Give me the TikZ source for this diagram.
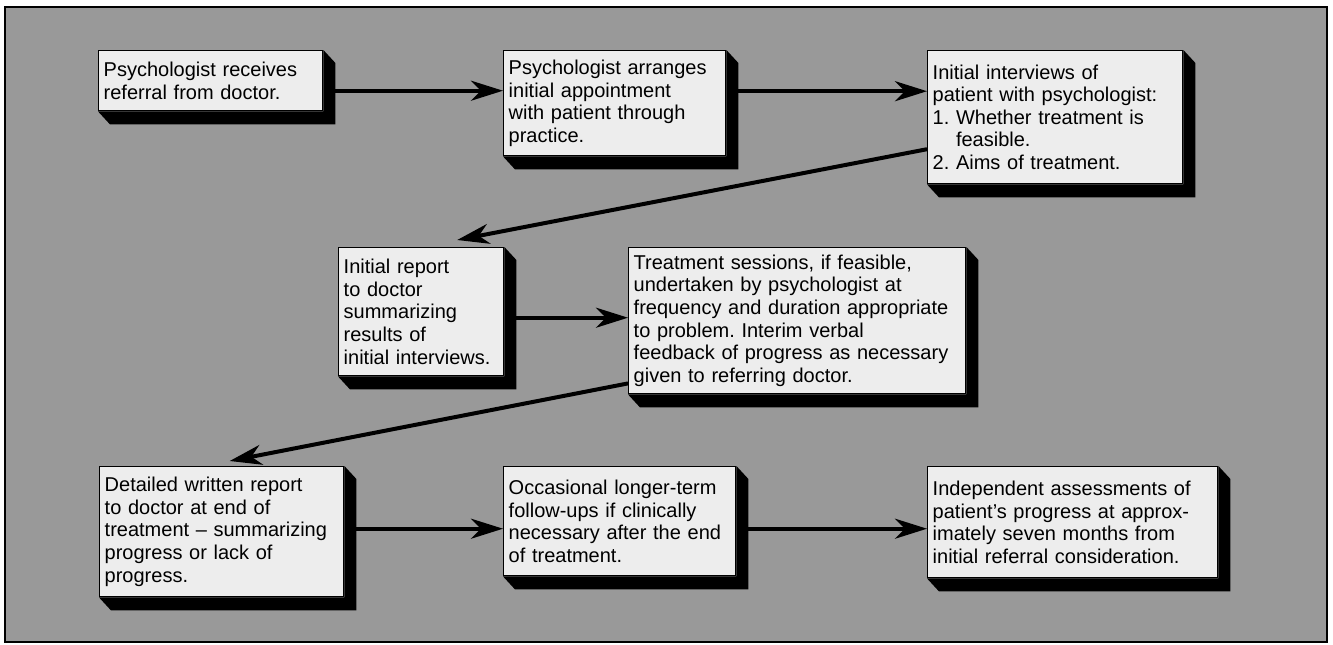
\documentclass[tikz,border=0pt]{standalone}
\usepackage{fontspec}
\setmainfont{Liberation Sans}
\usepackage{xcolor}
\usepackage{tikz}
\usetikzlibrary{arrows.meta}
\definecolor{panelgray}{gray}{0.60}
\definecolor{cardwhite}{gray}{0.93}
\newcommand{\cardfont}{\fontsize{10}{11.3}\selectfont\frenchspacing\hyphenpenalty=10000\relax}
\tikzstyle{stage} = [rectangle, anchor=north west, align=left,
    inner xsep=2.5pt, inner ysep=3pt, font=\cardfont,
    draw=black, line width=0.7pt, fill=cardwhite]
\tikzstyle{flow} = [line width=2pt, -{Stealth[length=16pt, width=10pt, inset=5pt]}]

\begin{document}
\begin{tikzpicture}[x=0.5pt, y=-0.5pt]
  \path[use as bounding box] (0,0) rectangle (1333,644);
  \draw[line width=0.7pt, fill=panelgray] (5,7) rectangle (1327,642);

  % top row
  \node (refer)     [stage, text width=107pt,   minimum height=30pt]   at (98,50)
    {Psychologist receives\\ referral from doctor.};
  \node (arrange)   [stage, text width=106pt,   minimum height=52.5pt] at (503,50)
    {Psychologist arranges\\ initial appointment\\ with patient through\\ practice.};
  \node (interview) [stage, text width=122.5pt, minimum height=66.5pt] at (927,50)
    {Initial interviews of\\ patient with psychologist:\\ 1. Whether treatment is\\
     \hphantom{1. }feasible.\\ 2. Aims of treatment.};

  % middle row
  \node (report)    [stage, text width=77.5pt,  minimum height=64pt]   at (338,247)
    {Initial report\\ to doctor\\ summarizing\\ results of\\ initial interviews.};
  \node (treat)     [stage, text width=163.5pt, minimum height=73pt]   at (628,247)
    {Treatment sessions, if feasible,\\ undertaken by psychologist at\\
     frequency and duration appropriate\\ to problem. Interim verbal\\
     feedback of progress as necessary\\ given to referring doctor.};

  % bottom row
  \node (written)   [stage, text width=117pt,   minimum height=65pt]   at (99,466)
    {Detailed written report\\ to doctor at end of\\ treatment -- summarizing\\
     progress or lack of\\ progress.};
  \node (follow)    [stage, text width=111pt,   minimum height=54.5pt] at (503,466)
    {Occasional longer-term\\ follow-ups if clinically\\ necessary after the end\\ of treatment.};
  \node (assess)    [stage, text width=140pt,   minimum height=55.5pt] at (927,466)
    {Independent assessments of\\ patient's progress at approx-\\
     imately seven months from\\ initial referral consideration.};

  % raised edges
  \foreach \n in {refer, arrange, interview, report, treat, written, follow, assess}
    \fill (\n.north east) -- ++(12,13) -- ([shift={(12,13)}]\n.south east)
      -- ([shift={(12,13)}]\n.south west) -- (\n.south west) -- (\n.south east) -- cycle;

  \draw[flow] ([shift={(12,10)}]refer.east) coordinate (r1) -- (r1 -| arrange.west);
  \draw[flow] ([shift={(12,-12)}]arrange.east) coordinate (r2) -- (r2 -| interview.west);
  \draw[flow] ([shift={(0,32)}]interview.west) -- ([shift={(36,-7)}]report.north);
  \draw[flow] ([shift={(12,6)}]report.east) coordinate (r3) -- (r3 -| treat.west);
  \draw[flow] ([shift={(0,-11)}]treat.south west) -- ([shift={(8,-5)}]written.north);
  \draw[flow] ([shift={(12,-3)}]written.east) coordinate (r4) -- (r4 -| follow.west);
  \draw[flow] ([shift={(12,7.5)}]follow.east) coordinate (r5) -- (r5 -| assess.west);
\end{tikzpicture}
\end{document}
